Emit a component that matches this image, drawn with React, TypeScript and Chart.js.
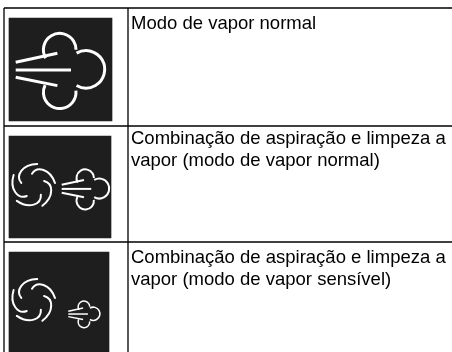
import React, { useEffect, useRef } from "react";
import { Chart, registerables } from "chart.js";

Chart.register(...registerables);

const W = 452;
const H = 352;

// Table content
const rowTexts: string[][] = [
  ["Modo de vapor normal"],
  ["Combinação de aspiração e limpeza a", "vapor (modo de vapor normal)"],
  ["Combinação de aspiração e limpeza a", "vapor (modo de vapor sensível)"],
];
const rowRules = [8, 126, 242];
const columnRules = [4, 128];
const textBaselines = [29, 144, 263];
const swatchLeft = [9, 9, 9];
const swatchRight = [112, 111, 109];
const swatchTop = [18, 136, 252];
const swatchBottom = [121, 238, 352];

// Icon placement
const cloudOriginX = [15.7, 61.7, 68.3];
const cloudOriginY = [33.3, 169.3, 301];
const cloudScale = [1, 0.534, 0.355];
const cloudStroke = [3, 2, 1.5];
const hasFan = [false, true, true];
const fanCentreX = [0, 33, 33];
const fanCentreY = [0, 185.7, 300.7];

// Cloud strokes, measured from its top-left corner
const cloudArcs = [
  { cx: 44, cy: 16.4, r: 16.3, from: 2.6, to: 6.28 },
  { cx: 70.3, cy: 36, r: 18.7, from: -2.1, to: 2.1 },
  { cx: 44, cy: 59, r: 16.3, from: -0.1, to: 3.6 },
];
const cloudLines = [
  [0, 29, 41.7, 20],
  [0, 36.7, 55.3, 36.7],
  [0, 44, 41.7, 52.3],
];
// One fan blade (start, two controls, end), turned round the centre five times
const fanBlade = [-1, -12, 4, -20, 17, -17, 22, -2.7];
const bladeCount = 5;

export default function App() {
  const ref = useRef<HTMLCanvasElement>(null);
  useEffect(() => {
    const canvas = ref.current!;
    const tablePlugin = {
      id: "table",
      afterDatasetsDraw(chart: any) {
        const { ctx, scales } = chart;
        const px = (v: number) => scales.x.getPixelForValue(v);
        const py = (v: number) => scales.y.getPixelForValue(v);
        ctx.save();
        ctx.lineCap = "butt";
        ctx.strokeStyle = "#ffffff";
        rowTexts.forEach((_, i) => {
          const s = cloudScale[i];
          const ox = cloudOriginX[i];
          const oy = cloudOriginY[i];
          ctx.lineWidth = cloudStroke[i];
          cloudArcs.forEach((a) => {
            ctx.beginPath();
            ctx.arc(px(ox + a.cx * s), py(oy + a.cy * s), a.r * s, a.from, a.to);
            ctx.stroke();
          });
          cloudLines.forEach((l) => {
            ctx.beginPath();
            ctx.moveTo(px(ox + l[0] * s), py(oy + l[1] * s));
            ctx.lineTo(px(ox + l[2] * s), py(oy + l[3] * s));
            ctx.stroke();
          });
          if (hasFan[i]) {
            ctx.lineWidth = 2;
            ctx.lineCap = "round";
            for (let b = 0; b < bladeCount; b++) {
              const t = (b * 2 * Math.PI) / bladeCount;
              const rot = (x: number, y: number) => [
                px(fanCentreX[i] + x * Math.cos(t) - y * Math.sin(t)),
                py(fanCentreY[i] + x * Math.sin(t) + y * Math.cos(t)),
              ];
              const [x0, y0] = rot(fanBlade[0], fanBlade[1]);
              const [x1, y1] = rot(fanBlade[2], fanBlade[3]);
              const [x2, y2] = rot(fanBlade[4], fanBlade[5]);
              const [x3, y3] = rot(fanBlade[6], fanBlade[7]);
              ctx.beginPath();
              ctx.moveTo(x0, y0);
              ctx.bezierCurveTo(x1, y1, x2, y2, x3, y3);
              ctx.stroke();
            }
            ctx.lineCap = "butt";
          }
        });
        ctx.fillStyle = "#000000";
        ctx.font = '18.5px "Liberation Sans"';
        ctx.textBaseline = "alphabetic";
        rowTexts.forEach((lines, i) => {
          lines.forEach((line, j) => {
            ctx.fillText(line, px(columnRules[1] + 3), py(textBaselines[i] + j * 22));
          });
        });
        ctx.restore();
      },
    };
    const ruleData = [
      ...rowRules.map((y) => ({
        data: [
          { x: columnRules[0], y },
          { x: W, y },
        ],
      })),
      ...columnRules.map((x) => ({
        data: [
          { x, y: rowRules[0] },
          { x, y: H },
        ],
      })),
    ];
    const chart = new Chart(canvas, {
      data: {
        datasets: [
          ...ruleData.map((d) => ({
            type: "scatter" as const,
            data: d.data,
            showLine: true,
            borderColor: "#000000",
            borderWidth: 1.3,
            pointRadius: 0,
          })),
          ...rowTexts.map((_, i) => ({
            type: "bar" as const,
            data: [{ x: (swatchLeft[i] + swatchRight[i]) / 2, y: [swatchTop[i], swatchBottom[i]] }],
            backgroundColor: "#1e1e1e",
            barThickness: swatchRight[i] - swatchLeft[i],
            grouped: false,
          })),
        ],
      } as any,
      options: {
        animation: false,
        responsive: false,
        events: [],
        layout: { padding: 0 },
        plugins: { legend: { display: false }, tooltip: { enabled: false } },
        scales: {
          x: { type: "linear", min: 0, max: W, display: false, offset: false },
          y: { type: "linear", min: 0, max: H, reverse: true, display: false },
        },
      } as any,
      plugins: [tablePlugin],
    });
    return () => chart.destroy();
  }, []);
  return (
    <div style={{ position: "fixed", left: 0, top: 0, width: W, height: H, background: "#fff" }}>
      <canvas ref={ref} width={W} height={H} style={{ display: "block" }} />
    </div>
  );
}
